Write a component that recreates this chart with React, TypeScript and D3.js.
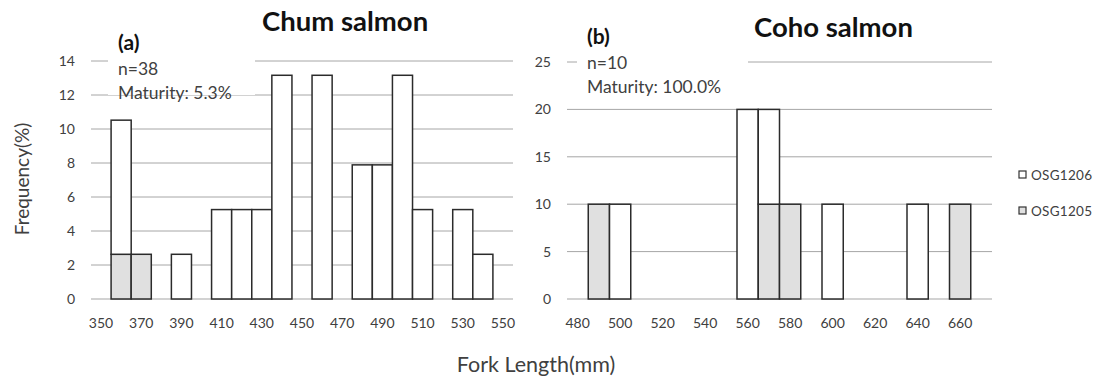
import React from "react";
import * as d3 from "d3";

const chumBins = ["350","360","370","380","390","400","410","420","430","440","450","460","470","480","490","500","510","520","530","540","550"];
const chumOSG1206 = [0, 7.89, 0, 0, 2.63, 0, 5.26, 5.26, 5.26, 13.16, 0, 13.16, 0, 7.89, 7.89, 13.16, 5.26, 0, 5.26, 2.63, 0];
const chumOSG1205 = [0, 2.63, 2.63, 0, 0, 0, 0, 0, 0, 0, 0, 0, 0, 0, 0, 0, 0, 0, 0, 0, 0];
const chumYTicks = [0, 2, 4, 6, 8, 10, 12, 14];

const cohoBins = ["480","490","500","510","520","530","540","550","560","570","580","590","600","610","620","630","640","650","660","670"];
const cohoOSG1206 = [0, 0, 10, 0, 0, 0, 0, 0, 20, 10, 0, 0, 10, 0, 0, 0, 10, 0, 0, 0];
const cohoOSG1205 = [0, 10, 0, 0, 0, 0, 0, 0, 0, 10, 10, 0, 0, 0, 0, 0, 0, 0, 10, 0];
const cohoYTicks = [0, 5, 10, 15, 20, 25];

const seriesNames = ["OSG1206", "OSG1205"];
const seriesFill = { OSG1206: "#ffffff", OSG1205: "#e0e0e0" };

const FONT = "Lato, 'Open Sans', sans-serif";

type PanelProps = {
  bins: string[];
  s1206: number[];
  s1205: number[];
  yTicks: number[];
  x0: number;
  x1: number;
  yTop: number;
  yBottom: number;
  title: string;
  titleX: number;
  titleY: number;
  tag: string;
  tagY: number;
  nText: string;
  matText: string;
  boxX0: number;
  boxX1: number;
  labelRight: number;
};

function Panel(p: PanelProps) {
  const x = d3.scaleBand<string>().domain(p.bins).range([p.x0, p.x1]).padding(0);
  const yMax = p.yTicks[p.yTicks.length - 1];
  const y = d3.scaleLinear().domain([0, yMax]).range([p.yBottom, p.yTop]);
  const bw = x.bandwidth();
  return (
    <g>
      {p.yTicks.map((t) =>
        t === 0 ? null : (
          <line key={"g" + t} x1={p.x0} x2={p.x1} y1={y(t)} y2={y(t)} stroke="#a6a6a6" strokeWidth={1} />
        )
      )}
      <rect x={p.boxX0} y={p.yTop - 10} width={p.boxX1 - p.boxX0} height={44} fill="#ffffff" />
      <line x1={p.x0} x2={p.x1} y1={y(0)} y2={y(0)} stroke="#a6a6a6" strokeWidth={1.2} />
      {p.bins.map((b, i) => {
        const g = p.s1205[i];
        const w = p.s1206[i];
        const xs = x(b) as number;
        return (
          <g key={"b" + b}>
            {g > 0 && (
              <rect x={xs} y={y(g)} width={bw} height={y(0) - y(g)} fill={seriesFill.OSG1205} stroke="#2b2b2b" strokeWidth={1.5} />
            )}
            {w > 0 && (
              <rect x={xs} y={y(g + w)} width={bw} height={y(g) - y(g + w)} fill={seriesFill.OSG1206} stroke="#2b2b2b" strokeWidth={1.5} />
            )}
          </g>
        );
      })}
      {p.yTicks.map((t) => (
        <text key={"yt" + t} x={p.labelRight} y={y(t) + 5} textAnchor="end" fontSize={14} fill="#404040" fontFamily={FONT}>
          {t}
        </text>
      ))}
      {p.bins.map((b, i) =>
        i % 2 === 0 ? (
          <text key={"xt" + b} x={(x(b) as number) + bw / 2} y={328} textAnchor="middle" fontSize={14} fill="#404040" fontFamily={FONT}>
            {b}
          </text>
        ) : null
      )}
      <text x={p.titleX} y={p.titleY} fontSize={27.5} fontWeight="bold" fill="#111" fontFamily={FONT}>
        {p.title}
      </text>
      <text x={p.boxX0 + 10} y={p.tagY} fontSize={21} fontWeight="bold" fill="#111" fontFamily={FONT}>
        {p.tag}
      </text>
      <text x={p.boxX0 + 10} y={p.tagY + 25} fontSize={17.5} fill="#404040" fontFamily={FONT}>
        {p.nText}
      </text>
      <text x={p.boxX0 + 10} y={p.tagY + 49} fontSize={17.5} fill="#404040" fontFamily={FONT}>
        {p.matText}
      </text>
    </g>
  );
}

export default function App() {
  return (
    <svg width={1102} height={380} style={{ position: "absolute", left: 0, top: 0, background: "#fff" }}>
      <rect x={0} y={0} width={1102} height={380} fill="#fff" />
      <Panel
        bins={chumBins}
        s1206={chumOSG1206}
        s1205={chumOSG1205}
        yTicks={chumYTicks}
        x0={91}
        x1={513}
        yTop={61}
        yBottom={299}
        title="Chum salmon"
        titleX={262}
        titleY={31}
        tag="(a)"
        tagY={50}
        nText="n=38"
        matText="Maturity: 5.3%"
        boxX0={108}
        boxX1={255}
        labelRight={75}
      />
      <Panel
        bins={cohoBins}
        s1206={cohoOSG1206}
        s1205={cohoOSG1205}
        yTicks={cohoYTicks}
        x0={567}
        x1={992}
        yTop={62}
        yBottom={299}
        title="Coho salmon"
        titleX={754}
        titleY={37}
        tag="(b)"
        tagY={44}
        nText="n=10"
        matText="Maturity: 100.0%"
        boxX0={577}
        boxX1={748}
        labelRight={551}
      />
      <text transform="translate(29,179) rotate(-90)" textAnchor="middle" fontSize={19} fill="#404040" fontFamily={FONT}>
        Frequency(%)
      </text>
      <text x={536} y={372} textAnchor="middle" fontSize={21.5} fill="#404040" fontFamily={FONT}>
        Fork Length(mm)
      </text>
      {seriesNames.map((s, i) => (
        <g key={s}>
          <rect x={1019} y={171 + i * 36} width={7} height={7} fill={seriesFill[s as keyof typeof seriesFill]} stroke="#333" strokeWidth={1.2} />
          <text x={1031} y={180 + i * 36} fontSize={13.5} fill="#404040" fontFamily={FONT} textLength={61} lengthAdjust="spacing">
            {s}
          </text>
        </g>
      ))}
    </svg>
  );
}
